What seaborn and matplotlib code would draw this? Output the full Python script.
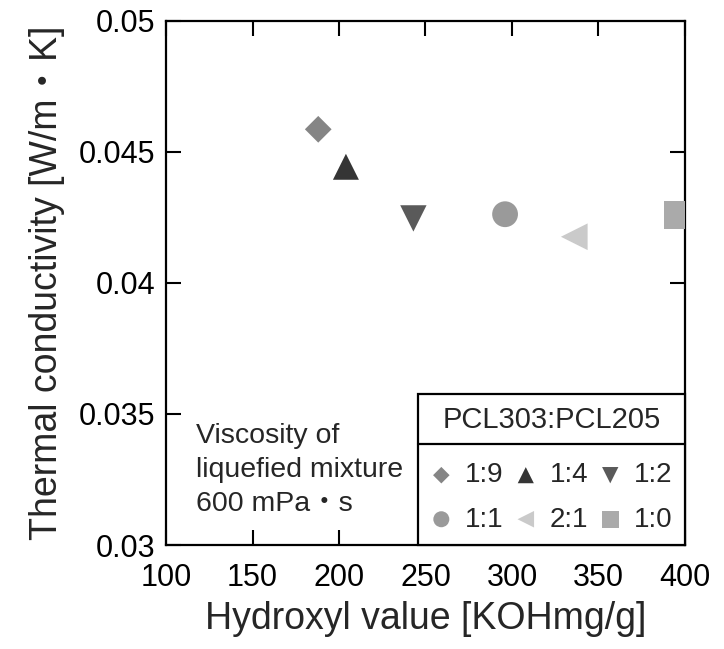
import numpy as np
import pandas as pd
import seaborn as sns
import matplotlib
matplotlib.use("Agg")
import matplotlib.pyplot as plt
from matplotlib.lines import Line2D

# ---- data ----
ratios = ["1:9", "1:4", "1:2", "1:1", "2:1", "1:0"]
hydroxyl = [188, 204, 243, 296, 336, 396]
conductivity = [0.04586, 0.04443, 0.04246, 0.04262, 0.04176, 0.04259]
markers = ["D", "^", "v", "o", "<", "s"]
colors = ["#858585", "#353535", "#5a5a5a", "#9a9a9a", "#cacaca", "#aaaaaa"]
marker_area = [185, 350, 360, 345, 370, 405]

xticks = [100, 150, 200, 250, 300, 350, 400]
yticks = [0.03, 0.035, 0.04, 0.045, 0.05]
ytick_labels = ["0.03", "0.035", "0.04", "0.045", "0.05"]

df = pd.DataFrame({"ratio": ratios, "x": hydroxyl, "y": conductivity})

sns.set_theme(style="ticks")
plt.rcParams["font.family"] = ["Liberation Sans", "Noto Sans CJK JP", "DejaVu Sans"]

fig = plt.figure(figsize=(7.24, 6.49), dpi=100)
ax = fig.add_axes([0.2293, 0.1602, 0.9461 - 0.2293, 0.968 - 0.1602])

for r, m, c, s in zip(ratios, markers, colors, marker_area):
    sub = df[df["ratio"] == r]
    sns.scatterplot(data=sub, x="x", y="y", marker=m, color=c, s=s,
                    edgecolor="none", linewidth=0, label=r, ax=ax, zorder=3)

ax.set_xlim(100, 400)
ax.set_ylim(0.03, 0.05)
ax.set_xticks(xticks)
ax.set_yticks(yticks)
ax.set_yticklabels(ytick_labels)
ax.tick_params(direction="in", length=11, width=1.5, top=True, right=True,
               labelsize=22, colors="black")
ax.tick_params(axis="x", pad=13)
ax.tick_params(axis="y", pad=8)
for sp in ax.spines.values():
    sp.set_linewidth(1.6)
    sp.set_color("black")

ax.set_xlabel("Hydroxyl value [KOHmg/g]", fontsize=27, labelpad=6)
ax.set_ylabel("Thermal conductivity [W/m・K]", fontsize=27, labelpad=10)

ax.text(0.058, 0.233, "Viscosity of\nliquefied mixture\n600 mPa・s",
        transform=ax.transAxes, va="top", ha="left", fontsize=20.5,
        linespacing=1.4)

handles, labels = ax.get_legend_handles_labels()
order = [0, 3, 1, 4, 2, 5]
leg = ax.legend([handles[i] for i in order], [labels[i] for i in order],
                ncol=3, loc="lower right", bbox_to_anchor=(1.0, 0.0),
                borderaxespad=0, frameon=True, fancybox=False, framealpha=1,
                edgecolor="black", fontsize=20, title="PCL303:PCL205",
                title_fontsize=21, markerscale=0.62, handlelength=0.8,
                handletextpad=0.45, columnspacing=0.4, labelspacing=0.65,
                borderpad=0.45)
leg.get_frame().set_linewidth(1.6)
leg.set_zorder(5)
# extra gap between title and entries (in points)
leg._legend_box.sep = 20.5

# divider line between legend title and entries
fig.canvas.draw()
renderer = fig.canvas.get_renderer()
fb = leg.get_frame().get_window_extent(renderer)
tb = leg.get_title().get_window_extent(renderer)
row_top = max(t.get_window_extent(renderer).y1 for t in leg.get_texts())
y_div = tb.y0 - 0.35 * (tb.y0 - row_top)
inv = fig.transFigure.inverted()
(x0f, yf), (x1f, _) = inv.transform([(fb.x0, y_div), (fb.x1, y_div)])
fig.add_artist(Line2D([x0f, x1f], [yf, yf], transform=fig.transFigure,
                      color="black", linewidth=1.6, zorder=10))

fig.savefig("out.png", dpi=100, facecolor="white")
